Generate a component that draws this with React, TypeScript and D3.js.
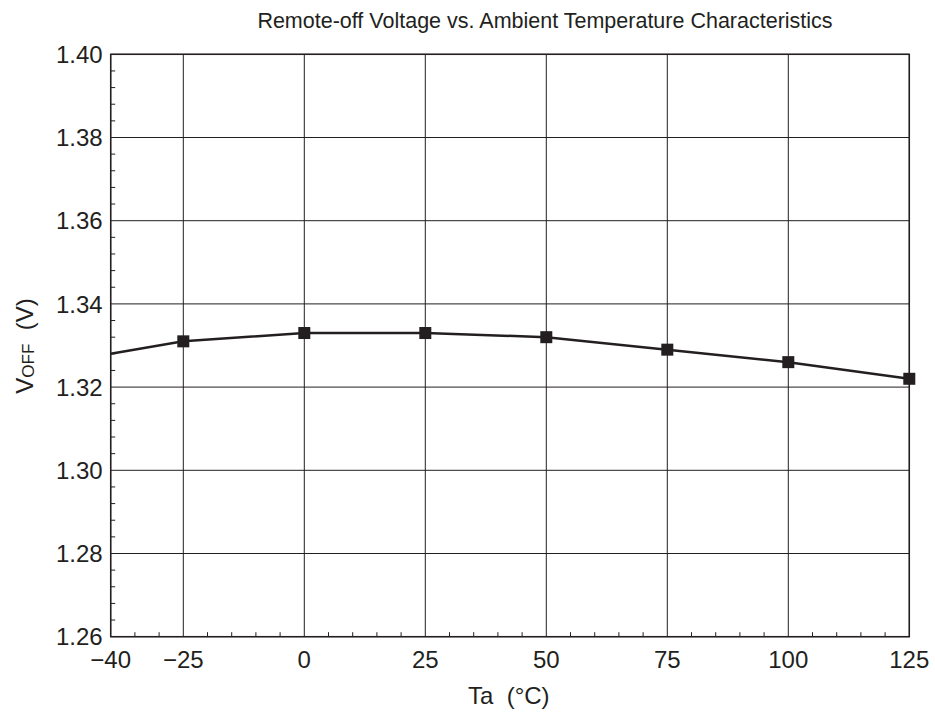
import React from "react";
import * as d3 from "d3";

const temps = [-40, -25, 0, 25, 50, 75, 100, 125];
const voff = [1.328, 1.331, 1.333, 1.333, 1.332, 1.329, 1.326, 1.322];
const markerTemps = [-25, 0, 25, 50, 75, 100, 125];
const xTicks = [-40, -25, 0, 25, 50, 75, 100, 125];
const yTicks = [1.26, 1.28, 1.30, 1.32, 1.34, 1.36, 1.38, 1.40];
const title = "Remote-off Voltage vs. Ambient Temperature Characteristics";

const W = 935, H = 715;
const L = 110.7, R = 909.3, T = 54.3, B = 636.7;

export default function App() {
  const x = d3.scaleLinear().domain([-40, 125]).range([L, R]);
  const y = d3.scaleLinear().domain([1.26, 1.40]).range([B, T]);
  const pts = temps.map((t, i) => [t, voff[i]] as [number, number]);
  const line = d3.line<[number, number]>().x(d => x(d[0])).y(d => y(d[1]));
  const xMinor = d3.range(-35, 125, 5).filter(v => !xTicks.includes(v));
  const yMinor = d3.range(0, 35).map(i => 1.26 + i * 0.004).filter(v => Math.abs(((v - 1.26) / 0.02) - Math.round((v - 1.26) / 0.02)) > 1e-6);
  const font = "Liberation Sans, Arial, sans-serif";
  const c = "#231f20";
  const fs = 24;
  return (
    <svg width={W} height={H} style={{ position: "absolute", left: 0, top: 0 }} fontFamily={font}>
      <rect width={W} height={H} fill="#fff" />
      <text x={545} y={28} textAnchor="middle" fontSize={21.5} fill={c}>{title}</text>
      {xTicks.map(t => (
        <line key={"gx" + t} x1={x(t)} x2={x(t)} y1={T} y2={B} stroke={c} strokeWidth={1} />
      ))}
      {yTicks.map(t => (
        <line key={"gy" + t} x1={L} x2={R} y1={y(t)} y2={y(t)} stroke={c} strokeWidth={1} />
      ))}
      {xMinor.map(t => (
        <line key={"mx" + t} x1={x(t)} x2={x(t)} y1={B} y2={B - 4.5} stroke={c} strokeWidth={1} />
      ))}
      {yMinor.map(t => (
        <line key={"my" + t} x1={L} x2={L + 4.5} y1={y(t)} y2={y(t)} stroke={c} strokeWidth={1} />
      ))}
      <rect x={L} y={T} width={R - L} height={B - T} fill="none" stroke={c} strokeWidth={1.5} />
      {yTicks.map(t => (
        <text key={"ly" + t} x={L - 8} y={y(t) + 8.6} textAnchor="end" fontSize={fs} fill={c}>{t.toFixed(2)}</text>
      ))}
      {xTicks.map(t => (
        <text key={"lx" + t} x={x(t)} y={668} textAnchor="middle" fontSize={fs} fill={c}>{t < 0 ? "\u2212" + Math.abs(t) : String(t)}</text>
      ))}
      <text x={468} y={704} textAnchor="start" fontSize={fs} fill={c} style={{ whiteSpace: "pre" }}>{"Ta  (\u00B0C)"}</text>
      <text transform={`translate(33,346) rotate(-90)`} textAnchor="middle" fontSize={fs} fill={c} style={{ whiteSpace: "pre" }}>
        V<tspan fontSize={17} dy={1}>OFF</tspan><tspan dy={-1}>{"  (V)"}</tspan>
      </text>
      <path d={line(pts) || ""} fill="none" stroke={c} strokeWidth={2.5} />
      {markerTemps.map(t => {
        const v = voff[temps.indexOf(t)];
        return <rect key={"m" + t} x={x(t) - 6} y={y(v) - 6} width={12} height={12} fill={c} />;
      })}
    </svg>
  );
}
